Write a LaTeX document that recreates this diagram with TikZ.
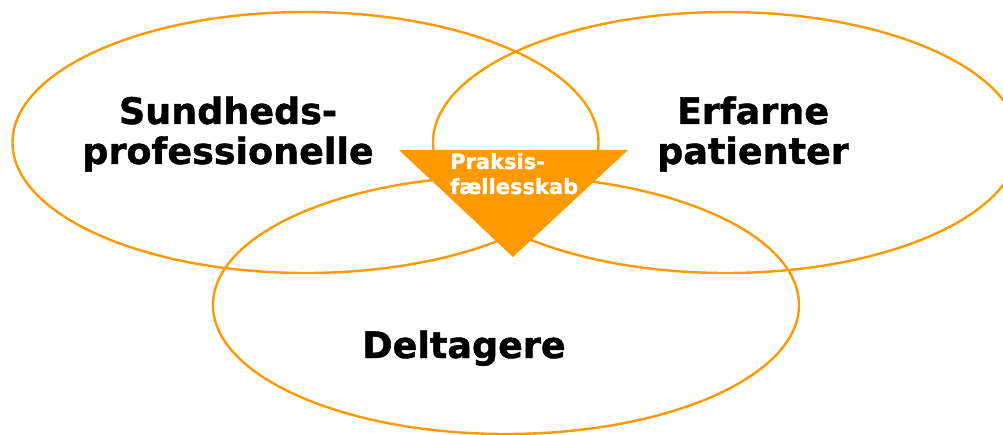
\documentclass[tikz,border=0pt]{standalone}
\usepackage{fontspec}
\setmainfont{DejaVu Sans}[BoldFeatures={FakeBold=1.2}]
\definecolor{venn}{HTML}{FF9900}
\begin{document}
\begin{tikzpicture}[x=1pt,y=-1pt,
  ring/.style={draw=venn,line width=2.4pt},
  biglabel/.style={anchor=base,inner sep=0pt,font=\bfseries\fontsize{36.5}{40}\selectfont,text=black},
  smalllabel/.style={anchor=base west,inner sep=0pt,font=\bfseries\fontsize{21}{25}\selectfont,text=white}]
  \useasboundingbox (0,0) rectangle (1003,435);
  % the three overlapping groups
  \draw[ring] (305.5,142.5) ellipse [x radius=293pt, y radius=130.5pt];
  \draw[ring] (726,142.5) ellipse [x radius=293pt, y radius=130.5pt];
  \draw[ring] (506,305) ellipse [x radius=293pt, y radius=129pt];
  % community of practice marker in the middle
  \coordinate (tl) at (399,150);
  \coordinate (tr) at (628,150);
  \coordinate (tip) at (513,257);
  \fill[venn] (tl) -- (tr) -- (tip) -- cycle;
  \node[smalllabel] (prak1) at (450,169) {Praksis-};
  \node[smalllabel] (prak2) at (450,194) {fællesskab};
  % group names
  \node[biglabel] (sund1) at (228,124) {Sundheds-};
  \node[biglabel] (sund2) at (228,164) {professionelle};
  \node[biglabel] (erf1) at (753,124) {Erfarne};
  \node[biglabel] (erf2) at (753,164) {patienter};
  \node[biglabel] (delt) at (464,358) {Deltagere};
\end{tikzpicture}
\end{document}
